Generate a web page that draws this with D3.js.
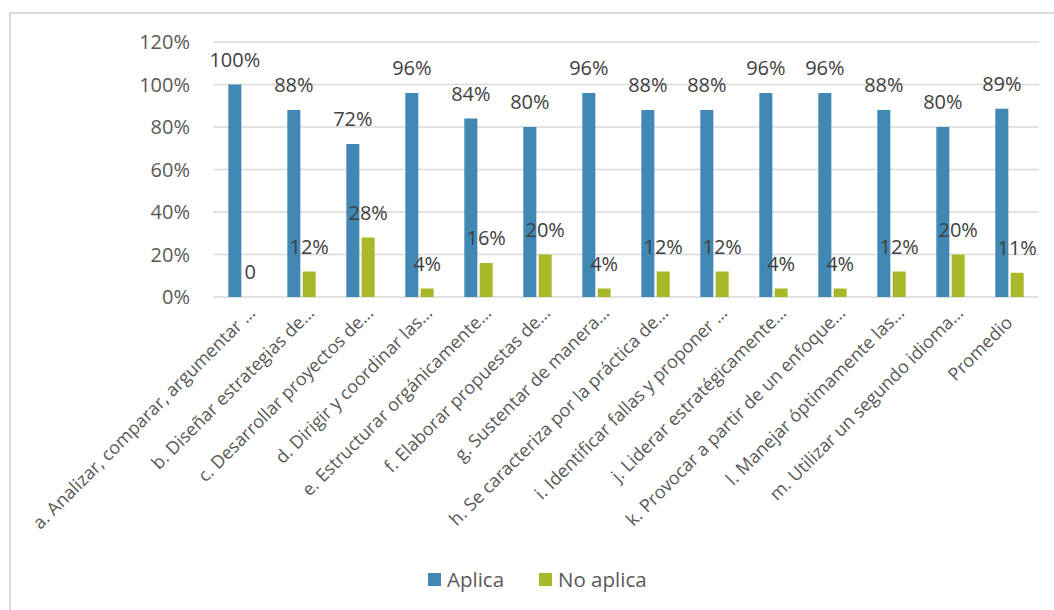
<!DOCTYPE html>
<html lang="es">
<head>
<meta charset="UTF-8">
<title>Aplica / No aplica</title>
<script src="https://cdn.jsdelivr.net/npm/d3@7"></script>
<style>
	body { margin: 0; background: #fff; }
	svg { display: block; font-family: "Open Sans", sans-serif; }
	.grid line { stroke: #d9d9d9; stroke-width: 1.5; }
	.tick-label { fill: #595959; font-size: 20px; }
	.value-label { fill: #404040; font-size: 20px; }
	.cat-label { fill: #595959; font-size: 18px; }
	.legend text { fill: #595959; font-size: 20.5px; }
</style>
</head>
<body>
<script>
// categories (x axis)
var categories = [
	"a. Analizar, comparar, argumentar \u2026",
	"b. Diseñar estrategias de\u2026",
	"c. Desarrollar proyectos de\u2026",
	"d. Dirigir y coordinar las\u2026",
	"e. Estructurar orgánicamente\u2026",
	"f. Elaborar propuestas de\u2026",
	"g. Sustentar de manera\u2026",
	"h. Se caracteriza por la práctica de\u2026",
	"i. Identificar fallas y proponer \u2026",
	"j. Liderar estratégicamente\u2026",
	"k. Provocar a partir de un enfoque\u2026",
	"l. Manejar óptimamente las\u2026",
	"m. Utilizar un segundo idioma\u2026",
	"Promedio"
];
var seriesNames = ["Aplica", "No aplica"];
var aplica   = [1.00, 0.88, 0.72, 0.96, 0.84, 0.80, 0.96, 0.88, 0.88, 0.96, 0.96, 0.88, 0.80, 0.886];
var noAplica = [0.00, 0.12, 0.28, 0.04, 0.16, 0.20, 0.04, 0.12, 0.12, 0.04, 0.04, 0.12, 0.20, 0.114];
var yTicks = [0, 0.2, 0.4, 0.6, 0.8, 1.0, 1.2];

var width = 1054, height = 610;
var colors = ["#4189b4", "#a7b928"];

var svg = d3.select("body").append("svg")
	.attr("width", width)
	.attr("height", height);

// chart frame (only left and top show in the picture)
svg.append("rect")
	.attr("x", 10).attr("y", 13)
	.attr("width", 1100).attr("height", 700)
	.style("fill", "none")
	.style("stroke", "#d9d9d9")
	.style("stroke-width", 2);

var x0 = d3.scaleBand()
	.domain(categories)
	.range([213, 1039]);

var x1 = d3.scaleBand()
	.domain(seriesNames)
	.range([0, x0.bandwidth()])
	.paddingInner(0.15)
	.paddingOuter(1);

var y = d3.scaleLinear()
	.domain([0, 1.2])
	.range([297, 42]);

var color = d3.scaleOrdinal().domain(seriesNames).range(colors);

// gridlines
svg.append("g")
	.attr("class", "grid")
	.selectAll("line")
	.data(yTicks)
	.enter().append("line")
	.attr("x1", 213)
	.attr("x2", 1039)
	.attr("y1", function (d) { return y(d); })
	.attr("y2", function (d) { return y(d); });

// y tick labels
svg.append("g")
	.selectAll("text")
	.data(yTicks)
	.enter().append("text")
	.attr("class", "tick-label")
	.attr("x", 190)
	.attr("y", function (d) { return y(d); })
	.attr("dy", "0.35em")
	.attr("text-anchor", "end")
	.text(d3.format(".0%"));

var rows = categories.map(function (c, i) {
	return { cat: c, values: [
		{ key: "Aplica", value: aplica[i] },
		{ key: "No aplica", value: noAplica[i] }
	] };
});

var groups = svg.append("g")
	.selectAll("g")
	.data(rows)
	.enter().append("g")
	.attr("transform", function (d) { return "translate(" + x0(d.cat) + ",0)"; });

groups.selectAll("rect")
	.data(function (d) { return d.values; })
	.enter().append("rect")
	.attr("x", function (d) { return x1(d.key); })
	.attr("width", x1.bandwidth())
	.attr("y", function (d) { return y(d.value); })
	.attr("height", function (d) { return y(0) - y(d.value); })
	.style("fill", function (d) { return color(d.key); });

// data labels
var pct = d3.format(".0%");
groups.selectAll("text")
	.data(function (d) { return d.values; })
	.enter().append("text")
	.attr("class", "value-label")
	.attr("x", function (d) { return x1(d.key) + x1.bandwidth() / 2; })
	.attr("y", function (d) { return y(d.value) - 18; })
	.attr("text-anchor", "middle")
	.text(function (d) { return d.value === 0 ? "0" : pct(d.value); });

// category labels, rotated
svg.append("g")
	.selectAll("text")
	.data(categories)
	.enter().append("text")
	.attr("class", "cat-label")
	.attr("text-anchor", "end")
	.attr("transform", function (d) {
		var cx = x0(d) + x0.bandwidth() / 2;
		return "translate(" + (cx + 14) + "," + 314 + ") rotate(-45)";
	})
	// labels without the ellipsis sit a bit further down in the original
	.attr("dx", function (d) { return d.slice(-1) === "\u2026" ? 0 : -14; })
	.text(function (d) { return d; });

// legend
var legendX = [428, 539];
var legend = svg.append("g")
	.attr("class", "legend")
	.selectAll("g")
	.data(seriesNames)
	.enter().append("g")
	.attr("transform", function (d, i) { return "translate(" + legendX[i] + ",573)"; });

legend.append("rect")
	.attr("width", 13)
	.attr("height", 13)
	.style("fill", function (d) { return color(d); });

legend.append("text")
	.attr("x", 19)
	.attr("y", 6.5)
	.attr("dy", "0.35em")
	.text(function (d) { return d; });
</script>
</body>
</html>
